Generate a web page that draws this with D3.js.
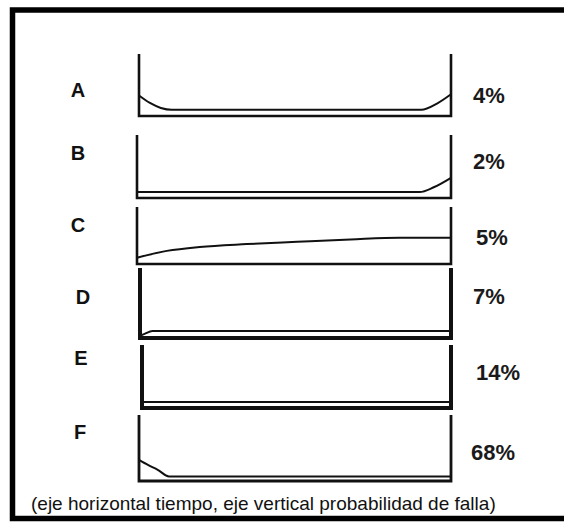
<!DOCTYPE html>
<html>
<head>
<meta charset="utf-8">
<script src="https://cdn.jsdelivr.net/npm/d3@7"></script>
<style>
  html, body { margin: 0; padding: 0; background: #fff; overflow: hidden; }
  svg { display: block; }
</style>
</head>
<body>
<div id="chart"></div>
<script>
// patterns of failure (x: time 0..1, y: failure probability 0..1 of panel height)
const categories = ['A', 'B', 'C', 'D', 'E', 'F'];
const percentages = [4, 2, 5, 7, 14, 68];

const curveA = [[0, 0.33], [0.035, 0.21], [0.07, 0.13], [0.105, 0.1], [0.905, 0.1], [0.955, 0.2], [1, 0.35]];
const curveB = [[0, 0.095], [0.9, 0.095], [0.945, 0.17], [1, 0.32]];
const curveC = [[0, 0.11], [0.095, 0.23], [0.2, 0.3], [0.35, 0.35], [0.51, 0.39], [0.68, 0.43], [0.835, 0.46], [1, 0.46]];
const curveD = [[0, 0.03], [0.015, 0.06], [0.04, 0.1], [1, 0.1]];
const curveE = [[0, 0.095], [1, 0.095]];
const curveF = [[0, 0.32], [0.03, 0.24], [0.06, 0.17], [0.096, 0.07], [1, 0.07]];

const curves = [curveA, curveB, curveC, curveD, curveE, curveF];

const caption = '(eje horizontal tiempo, eje vertical probabilidad de falla)';

// layout
const width = 564, height = 527;
const rows = [
  { top: 54, bottom: 116, left: 139, right: 451, axisW: 2.6, labelX: 78, labelY: 90, pctX: 473, pctY: 95 },
  { top: 135, bottom: 198, left: 137, right: 451, axisW: 2.6, labelX: 78, labelY: 153, pctX: 473, pctY: 161 },
  { top: 207, bottom: 264, left: 137, right: 451, axisW: 2.6, labelX: 78, labelY: 225, pctX: 476, pctY: 237 },
  { top: 268, bottom: 338, left: 140, right: 451, axisW: 4, labelX: 83, labelY: 297, pctX: 473, pctY: 296 },
  { top: 345, bottom: 408, left: 142, right: 451, axisW: 4, labelX: 81, labelY: 358, pctX: 476, pctY: 372 },
  { top: 415, bottom: 481, left: 139, right: 451, axisW: 2.8, labelX: 80, labelY: 432, pctX: 471, pctY: 452 }
];

const svg = d3.select('#chart')
  .append('svg')
  .attr('width', width)
  .attr('height', height)
  .attr('viewBox', `0 0 ${width} ${height}`)
  .attr('font-family', '"Liberation Sans", Arial, sans-serif');

// outer frame (right edge falls outside the picture)
svg.append('rect')
  .attr('x', 12.5)
  .attr('y', 10)
  .attr('width', 570)
  .attr('height', 508.5)
  .attr('fill', 'none')
  .attr('stroke', '#000')
  .attr('stroke-width', 5.5);

categories.forEach((cat, i) => {
  const r = rows[i];
  const x = d3.scaleLinear().domain([0, 1]).range([r.left, r.right]);
  const y = d3.scaleLinear().domain([0, 1]).range([r.bottom, r.top]);
  const g = svg.append('g');

  // axes: left, bottom, right
  g.append('path')
    .attr('d', d3.line()([[x(0), y(1)], [x(0), y(0)], [x(1), y(0)], [x(1), y(1)]]))
    .attr('fill', 'none')
    .attr('stroke', '#111')
    .attr('stroke-width', r.axisW)
    .attr('stroke-linejoin', 'miter')
    .attr('stroke-linecap', 'butt');

  const line = d3.line()
    .x(d => x(d[0]))
    .y(d => y(d[1]))
    .curve(d3.curveMonotoneX);

  g.append('path')
    .attr('d', line(curves[i]))
    .attr('fill', 'none')
    .attr('stroke', '#111')
    .attr('stroke-width', 2);

  g.append('text')
    .attr('x', r.labelX)
    .attr('y', r.labelY)
    .attr('text-anchor', 'middle')
    .attr('dominant-baseline', 'central')
    .attr('font-size', 20)
    .attr('font-weight', 'bold')
    .attr('fill', '#111')
    .text(cat);

  g.append('text')
    .attr('x', r.pctX)
    .attr('y', r.pctY)
    .attr('dominant-baseline', 'central')
    .attr('font-size', 22)
    .attr('font-weight', 'bold')
    .attr('fill', '#1a1a1a')
    .text(`${percentages[i]}%`);
});

svg.append('text')
  .attr('x', 31)
  .attr('y', 503)
  .attr('dominant-baseline', 'central')
  .attr('font-size', 19)
  .attr('fill', '#111')
  .text(caption);
</script>
</body>
</html>
